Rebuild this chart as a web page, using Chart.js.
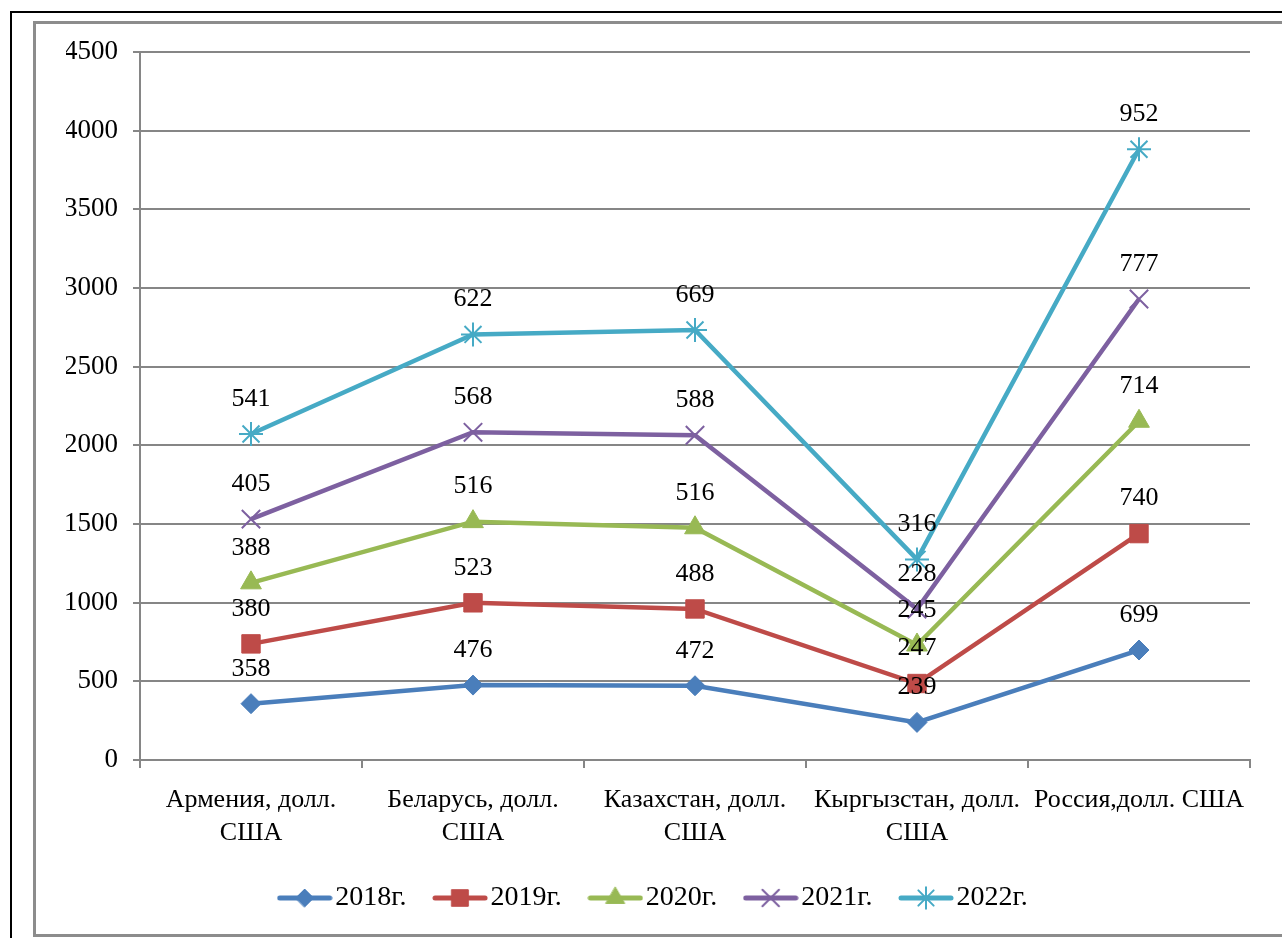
<!DOCTYPE html>
<html>
<head>
<meta charset="utf-8">
<script src="https://cdn.jsdelivr.net/npm/chart.js@4/dist/chart.umd.min.js"></script>
<style>
  body { margin: 0; background: #fff; width: 1282px; height: 938px; overflow: hidden; position: relative; }
  #outer { position: absolute; left: 10px; top: 11px; width: 1300px; height: 1000px; border-left: 2px solid #000; border-top: 2px solid #000; }
  #inner { position: absolute; left: 33px; top: 21px; width: 1300px; height: 910px; border: 3px solid #8c8c8c; }
  #wrap { position: absolute; left: 0; top: 0; width: 1282px; height: 938px; }
</style>
</head>
<body>
<div id="outer"></div>
<div id="inner"></div>
<div id="wrap"><canvas id="lineChart"></canvas></div>
<script>

// DATA ########################################################################

var countries = [
    ["Армения, долл.", "США"],
    ["Беларусь, долл.", "США"],
    ["Казахстан, долл.", "США"],
    ["Кыргызстан, долл.", "США"],
    "Россия,долл. США"
];
var years = ["2018г.", "2019г.", "2020г.", "2021г.", "2022г."];

var values2018 = [358, 476, 472, 239, 699];
var values2019 = [380, 523, 488, 247, 740];
var values2020 = [388, 516, 516, 245, 714];
var values2021 = [405, 568, 588, 228, 777];
var values2022 = [541, 622, 669, 316, 952];

var colors = ["#4A7EBB", "#BE4B48", "#98B954", "#7D60A0", "#46AAC5"];
var markers = ["rectRot", "rect", "triangle", "crossRot", "star"];
var markerSizes = [10, 13, 12, 13, 12];

var FONT = "'Liberation Serif', 'Times New Roman', serif";


// LINE CHART ##################################################################

function makeDataset(i, values) {
    var thin = markers[i] === "crossRot" || markers[i] === "star";
    return {
        label: years[i],
        data: values,
        fill: false,
        lineTension: 0,
        borderColor: colors[i],
        backgroundColor: colors[i],
        borderWidth: 4.5,
        pointStyle: markers[i],
        pointRadius: markerSizes[i],
        pointHoverRadius: markerSizes[i],
        pointBackgroundColor: colors[i],
        pointBorderColor: colors[i],
        pointBorderWidth: thin ? 2 : 1
    };
}

// legend icon: short line with the marker in the middle
function legendIcon(ds) {
    var c = document.createElement("canvas");
    c.width = 56;
    c.height = 28;
    var g = c.getContext("2d");
    g.strokeStyle = ds.borderColor;
    g.lineWidth = 5;
    g.lineCap = "round";
    g.beginPath();
    g.moveTo(3, 14);
    g.lineTo(53, 14);
    g.stroke();
    g.fillStyle = ds.pointBackgroundColor;
    g.strokeStyle = ds.pointBorderColor;
    g.lineWidth = ds.pointBorderWidth;
    Chart.helpers.drawPoint(g, {
        pointStyle: ds.pointStyle,
        radius: ds.pointRadius * 0.9,
        rotation: 0,
        borderWidth: ds.pointBorderWidth
    }, 28, 14);
    return c;
}

// values written above each point
var valueLabels = {
    id: "valueLabels",
    afterDatasetsDraw: function (chart) {
        var ctx = chart.ctx;
        ctx.save();
        ctx.font = "26px " + FONT;
        ctx.fillStyle = "#000";
        ctx.textAlign = "center";
        ctx.textBaseline = "middle";
        chart.data.datasets.forEach(function (ds, i) {
            var meta = chart.getDatasetMeta(i);
            meta.data.forEach(function (pt, j) {
                ctx.fillText(String(ds.data[j]), pt.x, pt.y - 35);
            });
        });
        ctx.restore();
    }
};

var data = {
    labels: countries,
    datasets: [
        makeDataset(0, values2018),
        makeDataset(1, values2019),
        makeDataset(2, values2020),
        makeDataset(3, values2021),
        makeDataset(4, values2022)
    ]
};

var options = {
    responsive: true,
    maintainAspectRatio: false,
    animation: false,
    layout: {
        padding: { left: 66, right: 32, top: 52, bottom: 16 }
    },
    plugins: {
        tooltip: { enabled: false },
        legend: {
            position: "bottom",
            labels: {
                color: "#000",
                font: { family: FONT, size: 28 },
                usePointStyle: true,
                pointStyleWidth: 33,
                padding: 37,
                generateLabels: function (chart) {
                    return chart.data.datasets.map(function (ds, i) {
                        return {
                            text: ds.label,
                            pointStyle: legendIcon(ds),
                            fillStyle: ds.borderColor,
                            strokeStyle: ds.borderColor,
                            lineWidth: 0,
                            datasetIndex: i,
                            hidden: false
                        };
                    });
                }
            }
        }
    },
    scales: {
        x: {
            offset: true,
            grid: {
                offset: true,
                drawOnChartArea: false,
                drawTicks: true,
                tickLength: 8,
                color: "#868686",
                lineWidth: 2
            },
            border: { color: "#868686", width: 2 },
            ticks: {
                color: "#000",
                font: { family: FONT, size: 26, lineHeight: 1.25 },
                maxRotation: 0,
                autoSkip: false,
                padding: 16
            },
            afterFit: function (scale) {
                scale.height = 87;
            }
        },
        y: {
            stacked: true,
            min: 0,
            max: 4500,
            grid: {
                color: "#868686",
                lineWidth: 2,
                tickLength: 7
            },
            border: { color: "#868686", width: 2 },
            ticks: {
                stepSize: 500,
                color: "#000",
                font: { family: FONT, size: 27 },
                padding: 15,
                callback: function (value) {
                    return String(value);
                }
            },
            afterFit: function (scale) {
                scale.width = 74;
            }
        }
    }
};

var myLineChart = new Chart(document.getElementById("lineChart"), {
    type: "line",
    data: data,
    options: options,
    plugins: [valueLabels]
});

</script>
</body>
</html>
